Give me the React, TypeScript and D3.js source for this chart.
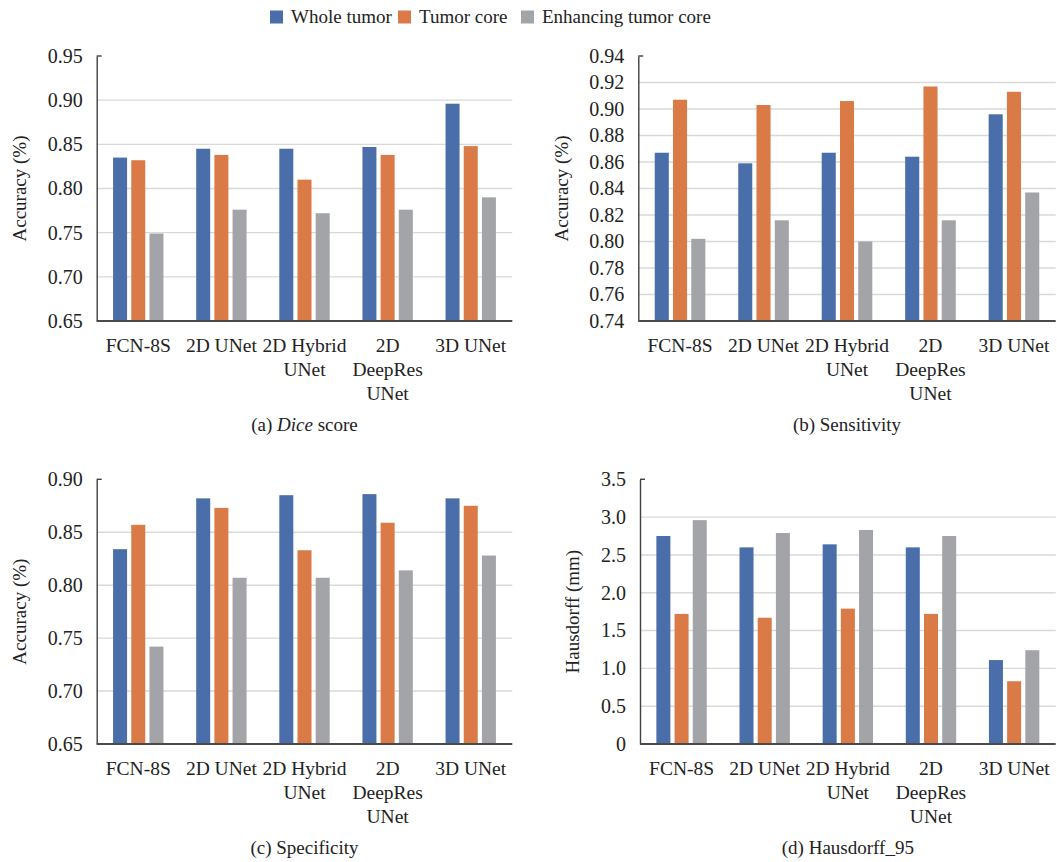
import React, { useEffect, useRef } from 'react'
import * as d3 from 'd3'

// categories and series
const categories = ['FCN-8S', '2D UNet', '2D Hybrid UNet', '2D DeepRes UNet', '3D UNet']
const categoryLines = [['FCN-8S'], ['2D UNet'], ['2D Hybrid', 'UNet'], ['2D', 'DeepRes', 'UNet'], ['3D UNet']]
const seriesNames = ['Whole tumor', 'Tumor core', 'Enhancing tumor core']
const seriesColors = ['#4a6eaa', '#da7a47', '#a3a4a8']

// (a) Dice score
const diceWhole = [0.835, 0.845, 0.845, 0.847, 0.896]
const diceCore = [0.832, 0.838, 0.810, 0.838, 0.848]
const diceEnh = [0.749, 0.776, 0.772, 0.776, 0.790]

// (b) Sensitivity
const sensWhole = [0.867, 0.859, 0.867, 0.864, 0.896]
const sensCore = [0.907, 0.903, 0.906, 0.917, 0.913]
const sensEnh = [0.802, 0.816, 0.800, 0.816, 0.837]

// (c) Specificity
const specWhole = [0.834, 0.882, 0.885, 0.886, 0.882]
const specCore = [0.857, 0.873, 0.833, 0.859, 0.875]
const specEnh = [0.742, 0.807, 0.807, 0.814, 0.828]

// (d) Hausdorff_95
const hdWhole = [2.75, 2.60, 2.64, 2.60, 1.11]
const hdCore = [1.72, 1.67, 1.79, 1.72, 0.83]
const hdEnh = [2.96, 2.79, 2.83, 2.75, 1.24]

// y tick values
const ticksA = [0.65, 0.70, 0.75, 0.80, 0.85, 0.90, 0.95]
const ticksB = [0.74, 0.76, 0.78, 0.80, 0.82, 0.84, 0.86, 0.88, 0.90, 0.92, 0.94]
const ticksC = [0.65, 0.70, 0.75, 0.80, 0.85, 0.90]
const ticksD = [0, 0.5, 1.0, 1.5, 2.0, 2.5, 3.0, 3.5]

const FONT = "'Liberation Serif', 'Times New Roman', serif"

type Panel = {
  left: number
  right: number
  top: number
  bottom: number
  values: number[][]
  ticks: number[]
  fmt: (d: number) => string
  yTitle: string
  titleX: number
  caption: [string, string, string]
}

const width = 1057
const height = 862

function App() {
  const svgRef = useRef<SVGSVGElement | null>(null)

  useEffect(() => {
    const svg = d3.select(svgRef.current)
    svg.selectAll('*').remove()

    const panels: Panel[] = [
      {
        left: 96.7, right: 512.3, top: 56, bottom: 321,
        values: [diceWhole, diceCore, diceEnh], ticks: ticksA,
        fmt: d => d.toFixed(2), yTitle: 'Accuracy (%)', titleX: 19,
        caption: ['(a) ', 'Dice', ' score'],
      },
      {
        left: 638.3, right: 1055.7, top: 56, bottom: 321,
        values: [sensWhole, sensCore, sensEnh], ticks: ticksB,
        fmt: d => d.toFixed(2), yTitle: 'Accuracy (%)', titleX: 561,
        caption: ['(b) Sensitivity', '', ''],
      },
      {
        left: 96.7, right: 512.3, top: 479.3, bottom: 744,
        values: [specWhole, specCore, specEnh], ticks: ticksC,
        fmt: d => d.toFixed(2), yTitle: 'Accuracy (%)', titleX: 19,
        caption: ['(c) Specificity', '', ''],
      },
      {
        left: 640, right: 1055.7, top: 479.3, bottom: 744,
        values: [hdWhole, hdCore, hdEnh], ticks: ticksD,
        fmt: d => (d === 0 ? '0' : d.toFixed(1)), yTitle: 'Hausdorff (mm)', titleX: 572,
        caption: ['(d) Hausdorff_95', '', ''],
      },
    ]

    panels.forEach(p => {
      const g = svg.append('g')
      const x0 = d3.scaleBand().domain(categories).range([p.left, p.right]).padding(0)
      const x1 = d3.scaleBand().domain(seriesNames).range([0, x0.bandwidth()])
        .paddingInner(0.23).paddingOuter(0.9)
      const y = d3.scaleLinear()
        .domain([p.ticks[0], p.ticks[p.ticks.length - 1]])
        .range([p.bottom, p.top])

      // gridlines
      g.selectAll('.grid')
        .data(p.ticks.slice(1, -1))
        .enter().append('line')
        .attr('x1', p.left).attr('x2', p.right)
        .attr('y1', d => y(d)).attr('y2', d => y(d))
        .style('stroke', '#d9d9d9')
        .style('stroke-width', 1.4)

      // bars
      p.values.forEach((vals, si) => {
        g.selectAll('.bar-' + si)
          .data(vals)
          .enter().append('rect')
          .attr('x', (d, i) => (x0(categories[i]) as number) + (x1(seriesNames[si]) as number))
          .attr('y', d => y(d))
          .attr('width', x1.bandwidth())
          .attr('height', d => p.bottom - y(d))
          .style('fill', seriesColors[si])
      })

      // y axis
      const yAxis = g.append('g')
        .attr('transform', `translate(${p.left},0)`)
        .call(d3.axisLeft(y).tickValues(p.ticks).tickFormat(d => p.fmt(d as number)).tickSize(0).tickPadding(14))
      yAxis.select('.domain').style('stroke', '#404040').style('stroke-width', 1.4)
      yAxis.selectAll('text')
        .style('font-family', FONT)
        .style('font-size', '20px')
        .style('fill', '#222')

      // top cap
      g.append('line')
        .attr('x1', p.left).attr('x2', p.left + 5)
        .attr('y1', p.top).attr('y2', p.top)
        .style('stroke', '#404040').style('stroke-width', 1.4)

      // x axis
      g.append('line')
        .attr('x1', p.left).attr('x2', p.right)
        .attr('y1', p.bottom).attr('y2', p.bottom)
        .style('stroke', '#4a4a4a').style('stroke-width', 2)

      // category labels
      categories.forEach((c, i) => {
        const cx = (x0(c) as number) + x0.bandwidth() / 2
        const t = g.append('text')
          .attr('x', cx)
          .attr('y', p.bottom + 31)
          .attr('text-anchor', 'middle')
          .style('font-family', FONT)
          .style('font-size', '19.5px')
          .style('fill', '#222')
        categoryLines[i].forEach((line, li) => {
          t.append('tspan').attr('x', cx).attr('dy', li === 0 ? 0 : 24).text(line)
        })
      })

      // y title
      g.append('text')
        .attr('transform', `translate(${p.titleX},${(p.top + p.bottom) / 2}) rotate(-90)`)
        .attr('text-anchor', 'middle')
        .attr('dy', '0.35em')
        .style('font-family', FONT)
        .style('font-size', '19px')
        .style('fill', '#222')
        .text(p.yTitle)

      // caption
      const cap = g.append('text')
        .attr('x', (p.left + p.right) / 2)
        .attr('y', p.bottom + 110)
        .attr('text-anchor', 'middle')
        .style('font-family', FONT)
        .style('font-size', '19px')
        .style('fill', '#222')
      cap.append('tspan').text(p.caption[0])
      if (p.caption[1]) cap.append('tspan').style('font-style', 'italic').text(p.caption[1])
      if (p.caption[2]) cap.append('tspan').text(p.caption[2])
    })

    // legend
    const legendX = [270, 398, 521]
    const legend = svg.append('g')
    seriesNames.forEach((s, i) => {
      legend.append('rect')
        .attr('x', legendX[i]).attr('y', 10.5)
        .attr('width', 13).attr('height', 13)
        .style('fill', seriesColors[i])
      legend.append('text')
        .attr('x', legendX[i] + 21)
        .attr('y', 23)
        .style('font-family', FONT)
        .style('font-size', '19px')
        .style('fill', '#222')
        .text(s)
    })
  }, [])

  return (
    <div style={{ position: 'absolute', left: 0, top: 0, width, height, background: '#fff' }}>
      <svg ref={svgRef} width={width} height={height} />
    </div>
  )
}

export default App
